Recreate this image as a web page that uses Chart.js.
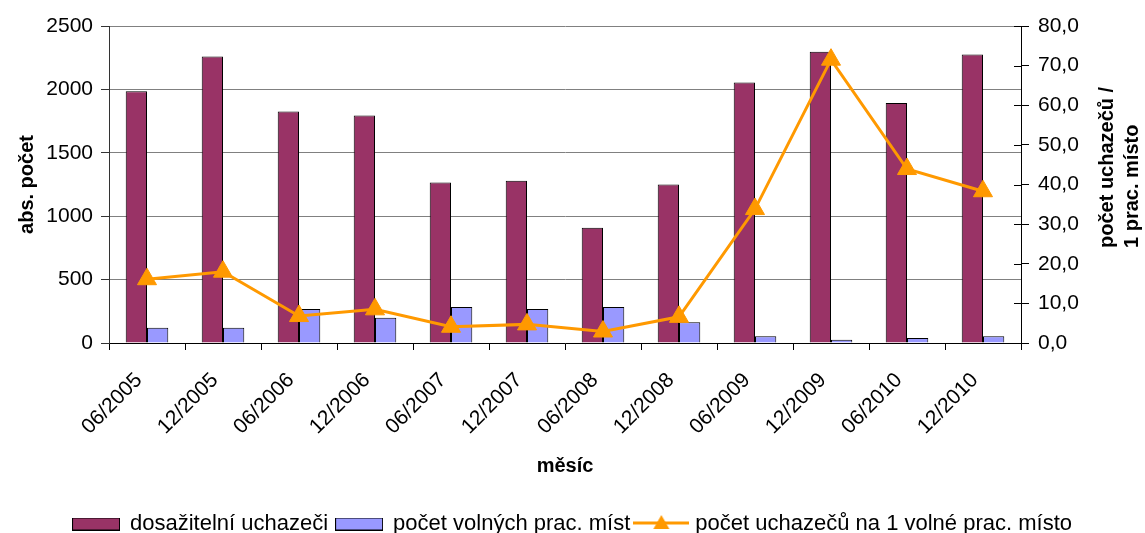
<!DOCTYPE html>
<html>
<head>
<meta charset="utf-8">
<script src="https://cdn.jsdelivr.net/npm/chart.js@4/dist/chart.umd.min.js"></script>
<style>
  html, body { margin: 0; padding: 0; background: #fff; }
  #wrap { width: 1145px; height: 533px; }
</style>
</head>
<body>
<div id="wrap"><canvas id="chart" width="1145" height="533"></canvas></div>
<script>
const months = ['06/2005', '12/2005', '06/2006', '12/2006', '06/2007', '12/2007',
  '06/2008', '12/2008', '06/2009', '12/2009', '06/2010', '12/2010'];
const dosazitelni = [1985, 2260, 1826, 1795, 1266, 1279, 908, 1250, 2055, 2297, 1892, 2276];
const volnaMista = [121, 121, 268, 200, 284, 268, 284, 163, 53, 26, 39, 53];
const naMisto = [16.1, 18.0, 6.8, 8.5, 4.1, 4.7, 2.9, 6.6, 33.8, 71.5, 43.9, 38.3];
const seriesNames = ['dosažitelní uchazeči', 'počet volných prac. míst', 'počet uchazečů na 1 volné prac. místo'];
const rightTitle = ['počet uchazečů /', '1 prac. místo'];

const FONT = "'Liberation Sans', Arial, sans-serif";
const MAROON = '#993366', LILAC = '#9999FF', ORANGE = '#FF9900';
const BOTTOM_PAD = -12; // pushes the legend down to the canvas edge

// legend swatches (bar boxes and the line with a triangle)
function boxIcon(color) {
  const c = document.createElement('canvas');
  c.width = 48; c.height = 13;
  const g = c.getContext('2d');
  g.fillStyle = color;
  g.fillRect(0.5, 0.5, 47, 12);
  g.strokeStyle = '#000';
  g.lineWidth = 1;
  g.strokeRect(0.5, 0.5, 47, 12);
  return c;
}
function lineIcon() {
  const c = document.createElement('canvas');
  c.width = 56; c.height = 20;
  const g = c.getContext('2d');
  g.strokeStyle = ORANGE;
  g.lineWidth = 3;
  g.beginPath(); g.moveTo(0, 9); g.lineTo(56, 9); g.stroke();
  g.fillStyle = ORANGE;
  g.beginPath(); g.moveTo(28, 1); g.lineTo(36, 15); g.lineTo(20, 15); g.closePath(); g.fill();
  return c;
}
const icons = [boxIcon(MAROON), boxIcon(LILAC), lineIcon()];

const rightTitlePlugin = {
  id: 'rightTitle',
  afterDraw(chart) {
    const ctx = chart.ctx;
    const s = chart.scales.y1;
    ctx.save();
    // inner half of the right axis tick marks
    ctx.strokeStyle = '#000';
    ctx.lineWidth = 1;
    s.ticks.forEach(t => {
      const y = Math.round(s.getPixelForValue(t.value)) + 0.5;
      ctx.beginPath(); ctx.moveTo(s.left - 7, y); ctx.lineTo(s.left, y); ctx.stroke();
    });
    ctx.fillStyle = '#000';
    ctx.font = 'bold 20px ' + FONT;
    ctx.textAlign = 'left';
    ctx.textBaseline = 'middle';
    rightTitle.forEach((line, i) => {
      ctx.save();
      ctx.translate(1107 + i * 25, 248);
      ctx.rotate(-Math.PI / 2);
      ctx.fillText(line, 0, 0);
      ctx.restore();
    });
    ctx.restore();
  }
};

new Chart(document.getElementById('chart'), {
  data: {
    labels: months,
    datasets: [
      { type: 'bar', label: seriesNames[0], data: dosazitelni, backgroundColor: MAROON,
        borderColor: '#000', borderWidth: 1, yAxisID: 'y', order: 1,
        categoryPercentage: 0.56, barPercentage: 1 },
      { type: 'bar', label: seriesNames[1], data: volnaMista, backgroundColor: LILAC,
        borderColor: '#000', borderWidth: 1, yAxisID: 'y', order: 1,
        categoryPercentage: 0.56, barPercentage: 1 },
      { type: 'line', label: seriesNames[2], data: naMisto, yAxisID: 'y1', order: 0,
        borderColor: ORANGE, backgroundColor: ORANGE, borderWidth: 3, tension: 0,
        pointStyle: 'triangle', pointRadius: 11, pointBorderWidth: 1,
        pointBackgroundColor: ORANGE, pointBorderColor: ORANGE }
    ]
  },
  options: {
    responsive: false,
    animation: false,
    layout: { padding: { top: 26, left: 0, right: 0, bottom: BOTTOM_PAD } },
    plugins: {
      tooltip: { enabled: false },
      legend: {
        position: 'bottom',
        labels: {
          usePointStyle: true,
          pointStyleWidth: 46,
          boxHeight: 13,
          padding: 8,
          color: '#000',
          font: { family: FONT, size: 22 },
          generateLabels(chart) {
            const items = Chart.defaults.plugins.legend.labels.generateLabels(chart);
            items.sort((a, b) => a.datasetIndex - b.datasetIndex);
            items.forEach(it => { it.pointStyle = icons[it.datasetIndex]; });
            return items;
          }
        }
      }
    },
    scales: {
      x: {
        offset: true,
        grid: { display: true, drawOnChartArea: false, offset: true, tickLength: 7, color: '#000' },
        border: { color: '#000' },
        ticks: { color: '#000', font: { family: FONT, size: 21 }, minRotation: 45, maxRotation: 45,
          padding: 18, labelOffset: -8 },
        title: { display: true, text: 'měsíc', color: '#000', font: { family: FONT, size: 20, weight: 'bold' },
          padding: { top: 0, bottom: 27 } },
        afterFit(s) {
          const lg = s.chart.legend;
          s.height = 533 - BOTTOM_PAD - (lg ? lg.height : 0) - 343;
        }
      },
      y: {
        position: 'left',
        min: 0, max: 2500,
        ticks: { stepSize: 500, color: '#000', font: { family: FONT, size: 21 }, padding: 8,
          callback: v => String(v) },
        grid: { color: '#808080', tickColor: '#333', tickLength: 8 },
        border: { color: '#333' },
        title: { display: true, text: 'abs. počet', color: '#000', font: { family: FONT, size: 20, weight: 'bold' },
          padding: { top: 15, bottom: 0 } },
        afterFit(s) { s.width = 109; }
      },
      y1: {
        position: 'right',
        min: 0, max: 80,
        ticks: { stepSize: 10, color: '#000', font: { family: FONT, size: 21 }, padding: 9,
          callback: v => v.toFixed(1).replace('.', ',') },
        grid: { drawOnChartArea: false, color: '#000', tickLength: 8 },
        border: { color: '#000' },
        afterFit(s) { s.width = 1145 - 1021; }
      }
    }
  },
  plugins: [rightTitlePlugin]
});
</script>
</body>
</html>
